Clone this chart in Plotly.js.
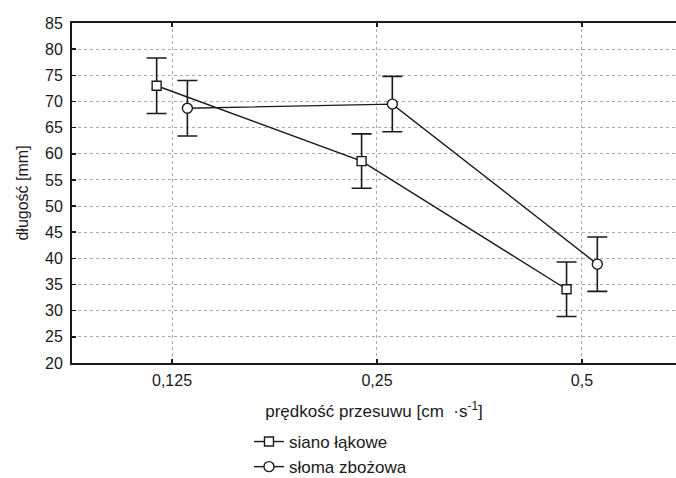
<!DOCTYPE html>
<html>
<head>
<meta charset="utf-8">
<script src="https://cdn.plot.ly/plotly-3.0.1.min.js"></script>
<style>html,body{margin:0;padding:0;background:#fff;}#chart{width:676px;height:478px;}</style>
</head>
<body>
<div id="chart"></div>
<script>
const categories = ['0,125', '0,25', '0,5'];
const sianoName = 'siano łąkowe';
const sianoMean = [73.0, 58.6, 34.1];
const sianoErr = [5.3, 5.2, 5.2];
const slomaName = 'słoma zbożowa';
const slomaMean = [68.7, 69.5, 38.9];
const slomaErr = [5.3, 5.3, 5.2];
const yTicks = [20, 25, 30, 35, 40, 45, 50, 55, 60, 65, 70, 75, 80, 85];

const OFFSET = 0.075;
const idx = categories.map((c, i) => i);
const ink = '#1a1a1a';
const fam = 'Liberation Sans, Arial, sans-serif';
const tickFont = {family: fam, size: 16, color: '#1a1a1a'};
const yTitleFont = {family: fam, size: 16, color: '#1a1a1a'};
const bigFont = {family: fam, size: 17, color: '#1a1a1a'};

const traces = [
  {
    name: sianoName,
    x: idx.map(i => i - OFFSET),
    y: sianoMean,
    mode: 'lines+markers',
    line: {color: ink, width: 1.4},
    marker: {symbol: 'square', size: 9, color: '#fff', line: {color: ink, width: 1.4}},
    error_y: {type: 'data', array: sianoErr, visible: true, color: ink, thickness: 1.6, width: 10}
  },
  {
    name: slomaName,
    x: idx.map(i => i + OFFSET),
    y: slomaMean,
    mode: 'lines+markers',
    line: {color: ink, width: 1.4},
    marker: {symbol: 'circle', size: 10, color: '#fff', line: {color: ink, width: 1.4}},
    error_y: {type: 'data', array: slomaErr, visible: true, color: ink, thickness: 1.6, width: 10}
  }
];

const layout = {
  width: 676,
  height: 478,
  margin: {l: 72, r: 0, t: 23, b: 115},
  paper_bgcolor: '#fff',
  plot_bgcolor: '#fff',
  font: tickFont,
  showlegend: true,
  legend: {
    xref: 'paper', yref: 'container',
    x: 0.293, y: 0.113, xanchor: 'left', yanchor: 'top',
    orientation: 'v', font: bigFont, bgcolor: 'rgba(0,0,0,0)',
    borderwidth: 0, itemwidth: 30, tracegroupgap: 0
  },
  xaxis: {
    automargin: false,
    range: [-0.488, 2.459],
    tickvals: idx,
    ticktext: categories,
    showline: true, linecolor: ink, linewidth: 2, mirror: 'allticks',
    ticks: 'inside', ticklen: 4, tickcolor: ink, tickwidth: 1.5,
    showgrid: true, gridcolor: '#aaaaaa', griddash: 'dot', gridwidth: 1,
    zeroline: false,
    tickfont: tickFont,
    ticklabelstandoff: 2,
    title: {text: 'prędkość przesuwu [cm\u00a0\u00a0·s<sup>-1</sup>]', font: bigFont, standoff: 17}
  },
  yaxis: {
    automargin: false,
    range: [20, 85],
    tickvals: yTicks,
    showline: true, linecolor: ink, linewidth: 2, mirror: false,
    ticks: 'inside', ticklen: 4, tickcolor: ink, tickwidth: 1.5,
    showgrid: true, gridcolor: '#aaaaaa', griddash: 'dot', gridwidth: 1,
    zeroline: false,
    tickfont: tickFont,
    ticklabelstandoff: 4,
    title: {text: 'długość [mm]', font: yTitleFont, standoff: 12}
  }
};

Plotly.newPlot('chart', traces, layout, {displayModeBar: false, staticPlot: true});
</script>
</body>
</html>
